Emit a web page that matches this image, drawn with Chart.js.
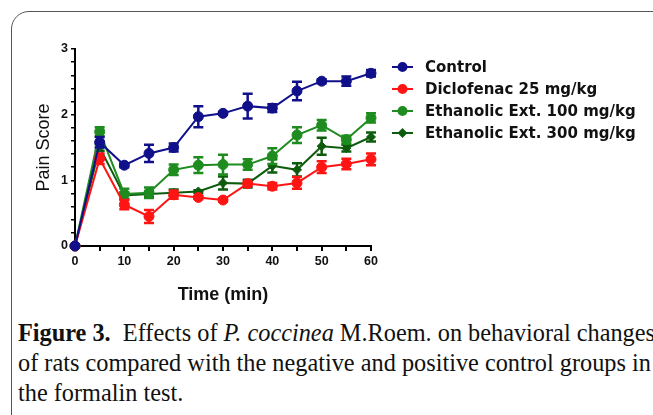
<!DOCTYPE html>
<html>
<head>
<meta charset="utf-8">
<script src="https://cdn.jsdelivr.net/npm/chart.js@4.4.1/dist/chart.umd.min.js"></script>
<style>
    html, body { margin: 0; padding: 0; background: #fff; }
    body { width: 653px; height: 415px; overflow: hidden; position: relative; }
    #frame {
        position: absolute; left: 11px; top: 11px; width: 720px; height: 440px;
        border: 1.5px solid #555; border-radius: 18px;
    }
    #wrap { position: absolute; left: 0; top: 0; width: 653px; height: 310px; }
    #caption {
        position: absolute; left: 18px; top: 318px; white-space: nowrap;
        font-family: "Liberation Serif", "Times New Roman", serif; font-size: 24.3px;
        line-height: 30px; color: #111;
    }
</style>
</head>
<body>
<div id="frame"></div>
<div id="wrap"><canvas id="painChart" width="653" height="310"></canvas></div>
<div id="caption">
    <b>Figure 3.</b>&nbsp; Effects of <i>P. coccinea</i> M.Roem. on behavioral changes<br>
    of rats compared with the negative and positive control groups in<br>
    the formalin test.
</div>
<script>
// time points (min)
const times = [0, 5, 10, 15, 20, 25, 30, 35, 40, 45, 50, 55, 60];

const seriesNames = ["Control", "Diclofenac 25 mg/kg", "Ethanolic Ext. 100 mg/kg", "Ethanolic Ext. 300 mg/kg"];

// mean pain score per group
const control    = [0, 1.58, 1.23, 1.41, 1.50, 1.97, 2.02, 2.13, 2.10, 2.36, 2.51, 2.51, 2.63];
const diclofenac = [0, 1.33, 0.63, 0.45, 0.78, 0.74, 0.70, 0.95, 0.91, 0.96, 1.20, 1.25, 1.32];
const ext100     = [0, 1.74, 0.79, 0.81, 1.16, 1.23, 1.24, 1.24, 1.37, 1.69, 1.84, 1.62, 1.95];
const ext300     = [0, 1.50, 0.77, 0.79, 0.81, 0.83, 0.96, 0.95, 1.22, 1.16, 1.52, 1.49, 1.66];

// error bar half widths (SEM)
const controlErr    = [0, 0.08, 0.03, 0.13, 0.06, 0.16, 0.02, 0.19, 0.06, 0.14, 0.03, 0.07, 0.05];
const diclofenacErr = [0, 0.08, 0.07, 0.10, 0.06, 0.02, 0.02, 0.03, 0.05, 0.09, 0.09, 0.08, 0.09];
const ext100Err     = [0, 0.07, 0.08, 0.08, 0.08, 0.12, 0.15, 0.08, 0.12, 0.12, 0.08, 0.06, 0.07];
const ext300Err     = [0, 0.05, 0.05, 0.04, 0.05, 0.02, 0.10, 0.06, 0.10, 0.10, 0.13, 0.05, 0.07];

const yTicks = [0, 1, 2, 3];

const colors = ["#10108a", "#ff1414", "#1e8c1e", "#0d5c0d"];
const pointStyles = ["circle", "circle", "circle", "rectRot"];
const pointSizes = [5, 5, 5, 4.5];

function toPoints(values) {
    return times.map((t, i) => ({ x: t, y: values[i] }));
}

const allValues = [control, diclofenac, ext100, ext300];
const allErrors = [controlErr, diclofenacErr, ext100Err, ext300Err];

const errorBars = {
    id: "errorBars",
    afterDatasetDraw(chart, args) {
        const i = args.index;
        const errs = allErrors[i];
        const vals = allValues[i];
        const xs = chart.scales.x, ys = chart.scales.y;
        const ctx = chart.ctx;
        ctx.save();
        ctx.strokeStyle = colors[i];
        ctx.lineWidth = 2.5;
        times.forEach((t, k) => {
            if (!errs[k]) return;
            const px = xs.getPixelForValue(t);
            const top = ys.getPixelForValue(vals[k] + errs[k]);
            const bot = ys.getPixelForValue(vals[k] - errs[k]);
            ctx.beginPath();
            ctx.moveTo(px, top); ctx.lineTo(px, bot);
            ctx.moveTo(px - 5, top); ctx.lineTo(px + 5, top);
            ctx.moveTo(px - 5, bot); ctx.lineTo(px + 5, bot);
            ctx.stroke();
        });
        ctx.restore();
    }
};

const sideLegend = {
    id: "sideLegend",
    afterDraw(chart) {
        const ctx = chart.ctx;
        ctx.save();
        seriesNames.forEach((name, i) => {
            const y = 67 + i * 22;
            ctx.strokeStyle = colors[i];
            ctx.lineWidth = 2;
            ctx.beginPath();
            ctx.moveTo(392, y); ctx.lineTo(413, y);
            ctx.stroke();
            ctx.fillStyle = colors[i];
            Chart.helpers.drawPoint(ctx, {
                pointStyle: pointStyles[i], radius: pointSizes[i] - 1, rotation: 0, borderWidth: 1
            }, 402.5, y);
            ctx.fillStyle = "#111";
            ctx.font = "bold 15px 'DejaVu Sans'";
            ctx.textBaseline = "middle";
            ctx.fillText(name, 425, y + 1);
        });
        ctx.restore();
    }
};

const tickFont = { family: "'Liberation Sans', Arial", size: 12.5, weight: "bold" };

new Chart(document.getElementById("painChart"), {
    type: "line",
    data: {
        datasets: seriesNames.map((name, i) => ({
            label: name,
            data: toPoints(allValues[i]),
            borderColor: colors[i],
            backgroundColor: colors[i],
            borderWidth: 2,
            pointStyle: pointStyles[i],
            pointRadius: pointSizes[i],
            pointBorderWidth: 1,
            tension: 0,
            clip: false
        }))
    },
    options: {
        responsive: false,
        animation: false,
        layout: { padding: { top: 49, right: 282, left: 29, bottom: 0 } },
        plugins: { legend: { display: false }, tooltip: { enabled: false } },
        scales: {
            x: {
                type: "linear",
                min: 0,
                max: 60,
                afterFit(scale) { scale.height = 64; },
                ticks: {
                    stepSize: 5,
                    autoSkip: false,
                    maxRotation: 0,
                    color: "#111",
                    font: tickFont,
                    padding: 3,
                    callback: v => (v % 10 === 0 ? v : "")
                },
                grid: { drawOnChartArea: false, tickLength: 5, color: "#000", lineWidth: 2 },
                border: { color: "#000", width: 2 },
                title: {
                    display: true,
                    text: "Time (min)",
                    color: "#111",
                    font: { family: "'Liberation Sans', Arial", size: 18, weight: "bold" },
                    padding: { top: 5 }
                }
            },
            y: {
                min: 0,
                max: 3,
                afterFit(scale) { scale.width = 46; },
                ticks: {
                    stepSize: 0.2,
                    autoSkip: false,
                    color: "#111",
                    font: tickFont,
                    padding: 3,
                    callback: v => {
                        const r = Math.round(v);
                        return Math.abs(v - r) < 1e-6 && yTicks.includes(r) ? r : "";
                    }
                },
                grid: { drawOnChartArea: false, tickLength: 4, color: "#000", lineWidth: 1.5 },
                border: { color: "#000", width: 2 },
                title: {
                    display: true,
                    text: "Pain Score",
                    color: "#111",
                    font: { family: "'Liberation Sans', Arial", size: 18 },
                    padding: { top: 4, bottom: 4 }
                }
            }
        }
    },
    plugins: [errorBars, sideLegend]
});
</script>
</body>
</html>
